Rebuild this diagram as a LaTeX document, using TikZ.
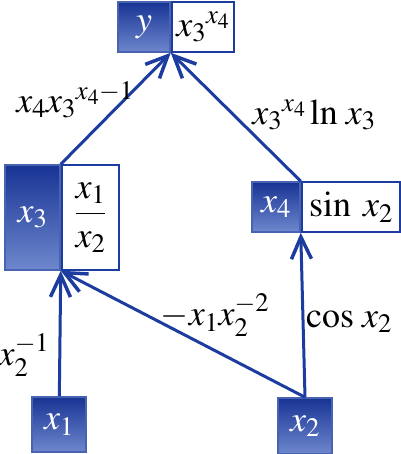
\documentclass[tikz,border=0pt]{standalone}
\usepackage{amsmath}
\usepackage{mathptmx}
\usetikzlibrary{arrows.meta,shapes,positioning}
\definecolor{edgecolor}{RGB}{28,60,160}
\definecolor{darktop}{RGB}{24,52,148}
\definecolor{darkbottom}{RGB}{110,135,205}
\tikzset{
	var/.style={
		rectangle,
		line width=1.5pt,
		draw=edgecolor!80,
		top color=darktop,
		bottom color=darkbottom,
		text=white,
		inner sep=0pt,
		minimum height=50pt,
		minimum width=52pt
	},
	expr/.style={
		rectangle,
		line width=2.5pt,
		draw=edgecolor,
		fill=white,
		inner sep=0pt,
		minimum height=50pt
	},
	arrow/.style={
		draw=edgecolor,
		line width=3pt,
		-{Straight Barb[length=22pt,width=20pt,line width=3.5pt]}
	},
	lbl/.style={
		inner sep=0pt
	},
}

\begin{document}
\begin{tikzpicture}[x=1pt,y=-1pt,font=\fontsize{36}{40}\selectfont]
		\useasboundingbox (0,0) rectangle (400,454);

		\node (y) [var] at (144,27) {$y$};
		\node (ylab) [expr,minimum width=62pt,right=0pt of y] {${x_3}^{x_4}$};
		\node (x3) [var,minimum width=55pt,minimum height=105pt] at (32.5,217.5) {$x_3$};
		\node (x3lab) [expr,minimum width=57pt,minimum height=105pt,right=0pt of x3] {$\dfrac{x_1}{x_2}$};
		\node (x4) [var,minimum width=48pt] at (276,207) {$x_4$};
		\node (x4lab) [expr,minimum width=98pt,right=0pt of x4] {$\sin\;x_2$};
		\node (x1) [var,minimum width=54pt,minimum height=55pt] at (59,424.5) {$x_1$};
		\node (x2) [var,minimum width=54pt,minimum height=56pt] at (305,426) {$x_2$};

		\draw [arrow] (x1) -- (x3.south east);
		\draw [arrow] (x2.north) -- (x3.south east);
		\draw [arrow] (x2.north) -- (x4.south east);
		\draw [arrow] (x3.north east) -- (y.south east);
		\draw [arrow] (x4.north east) -- (y.south east);

		\node (d31) [lbl] at (75,100) {$x_4{x_3}^{x_4-1}$};
		\node (d34) [lbl] at (314,115) {${x_3}^{x_4}\ln\,x_3$};
		\node (d21) [lbl] at (215,315) {$-x_1x_2^{-2}$};
		\node (d11) [lbl] at (24,355) {$x_2^{-1}$};
		\node (d24) [lbl] at (349,322) {$\cos\,x_2$};

		\end{tikzpicture}
\end{document}
